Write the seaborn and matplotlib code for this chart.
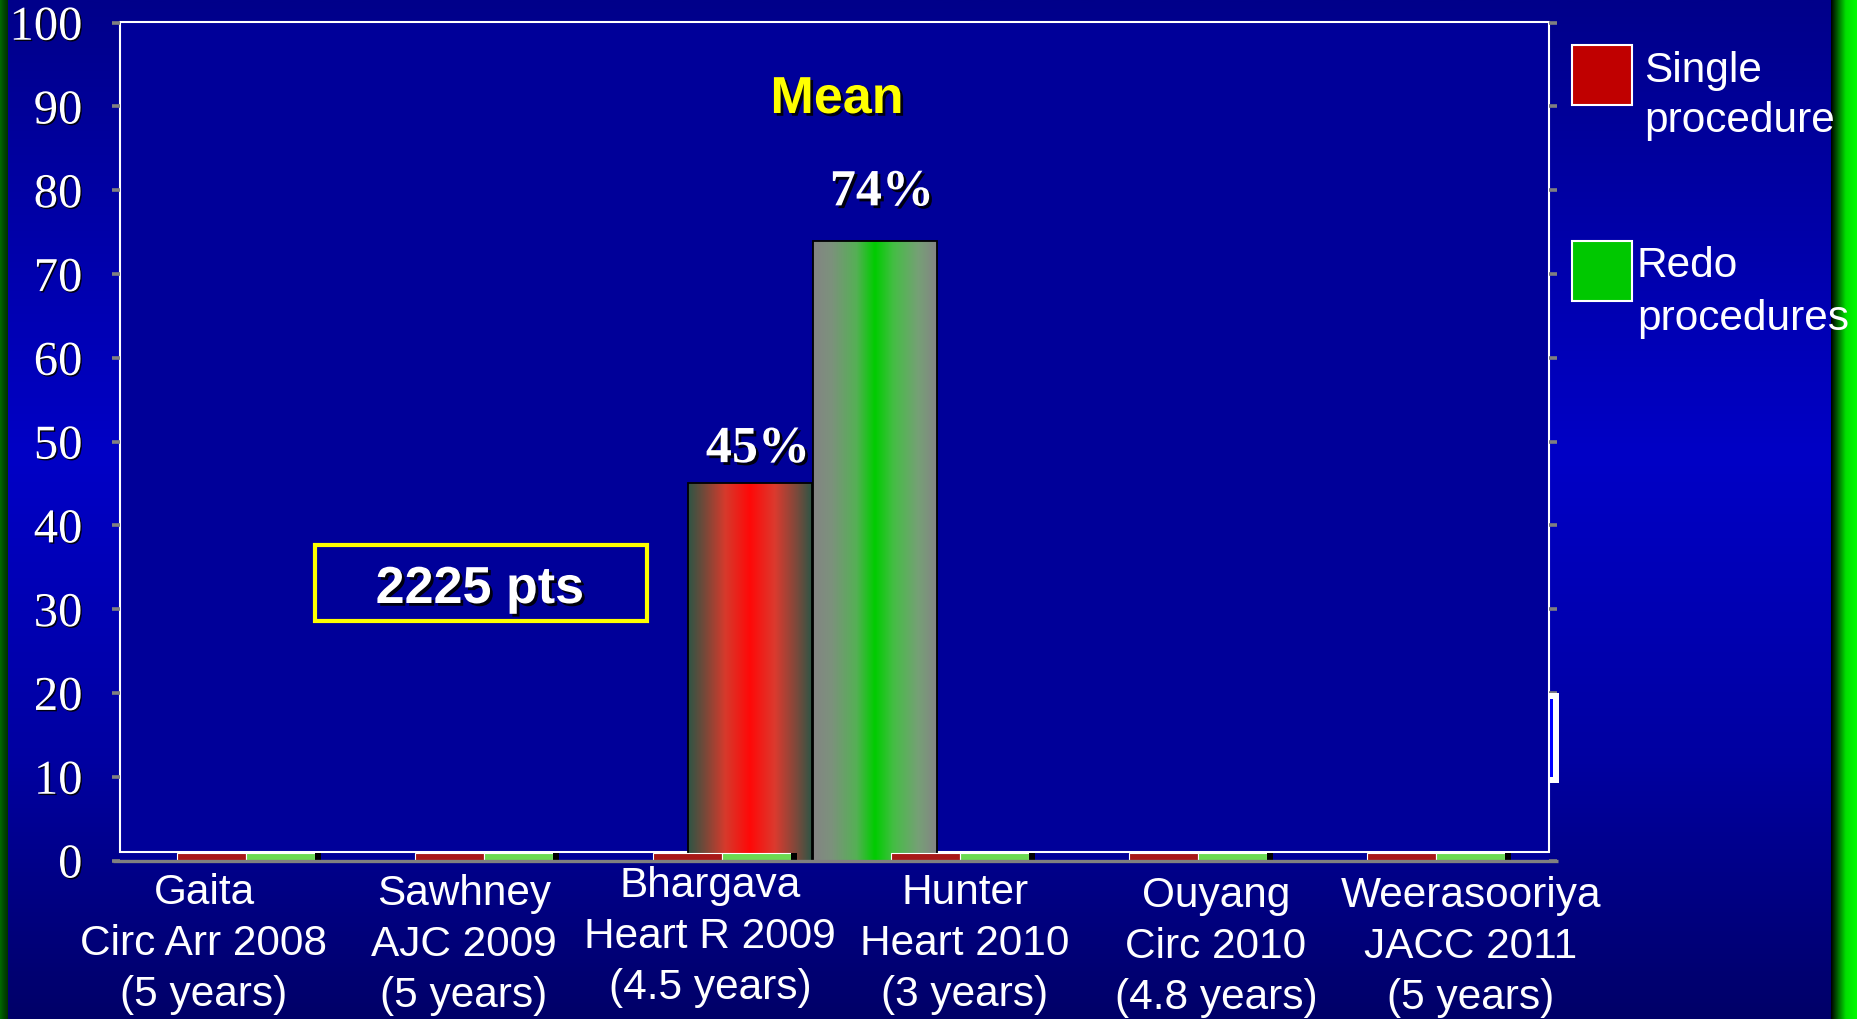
import numpy as np
import pandas as pd
import matplotlib
matplotlib.use("Agg")
import matplotlib.pyplot as plt
import matplotlib.patheffects as pe
from matplotlib.colors import LinearSegmentedColormap
from matplotlib.patches import Rectangle
import seaborn as sns

# ---- data -------------------------------------------------------------
studies = ["Gaita", "Sawhney", "Bhargava", "Hunter", "Ouyang", "Weerasooriya"]
journals = ["Circ Arr 2008", "AJC 2009", "Heart R 2009", "Heart 2010", "Circ 2010", "JACC 2011"]
follow_up = ["(5 years)", "(5 years)", "(4.5 years)", "(3 years)", "(4.8 years)", "(5 years)"]

# per-study bars (collapsed to the baseline)
single_proc = [0.9, 0.9, 0.9, 0.9, 0.9, 0.9]
redo_proc = [0.9, 0.9, 0.9, 0.9, 0.9, 0.9]
third_series = [0.9, 0.9, 0.9, 0.9, 0.9, 0.9]

# pooled mean success
mean_series = ["Single procedure", "Redo procedures"]
mean_values = [45, 74]
mean_text = ["45%", "74%"]

y_ticks = [0, 10, 20, 30, 40, 50, 60, 70, 80, 90, 100]
legend_lines = [["Single", "procedure"], ["Redo", "procedures"]]

# ---- figure geometry (pixels) ----------------------------------------
W, H = 1858, 1019
DPI = 100
fig = plt.figure(figsize=(W / DPI, H / DPI), dpi=DPI)

SANS = ["Liberation Sans", "DejaVu Sans"]
SERIF = ["Liberation Serif", "DejaVu Serif"]

def shadow(off=2.0):
    return [pe.withSimplePatchShadow(offset=(off, -off), shadow_rgbFace="black", alpha=0.9)]

# background: slide gradient with green side strips
bg = fig.add_axes([0, 0, 1, 1], zorder=-10)
bg_cmap = LinearSegmentedColormap.from_list(
    "slide", [(0.0, "#00008A"), (0.45, "#0000C6"), (0.75, "#0000A0"), (1.0, "#000068")])
bg.imshow(np.linspace(0, 1, 512).reshape(-1, 1), cmap=bg_cmap, aspect="auto",
          extent=[0, W, H, 0], interpolation="bilinear")
left_cmap = LinearSegmentedColormap.from_list("ls", ["#006A00", "#004800", "#003000"])
bg.imshow(np.linspace(0, 1, 64).reshape(1, -1), cmap=left_cmap, aspect="auto",
          extent=[0, 8, H, 0], interpolation="bilinear")
right_cmap = LinearSegmentedColormap.from_list(
    "rs", [(0.0, "#000000"), (0.55, "#00E000"), (1.0, "#00FF00")])
bg.imshow(np.linspace(0, 1, 64).reshape(1, -1), cmap=right_cmap, aspect="auto",
          extent=[1831, 1858, H, 0], interpolation="bilinear")
bg.set_xlim(0, W)
bg.set_ylim(H, 0)
bg.axis("off")

# ---- main chart axes --------------------------------------------------
PX_PER_CAT = 238.0
X0_PX, X1_PX = 120.0, 1549.0
Y0_PX, Y100_PX = 860.5, 22.7
ax = fig.add_axes([X0_PX / W, 1 - Y0_PX / H, (X1_PX - X0_PX) / W, (Y0_PX - Y100_PX) / H], zorder=1)
ax.patch.set_alpha(0)
XL0 = -0.5 - 7.0 / PX_PER_CAT
XL1 = XL0 + (X1_PX - X0_PX) / PX_PER_CAT

def px_to_x(px):
    return XL0 + (px - X0_PX) / PX_PER_CAT

df = pd.DataFrame({
    "study": studies * 2,
    "value": single_proc + redo_proc,
    "procedure": ["Single procedure"] * 6 + ["Redo procedures"] * 6,
})
sns.barplot(data=df, x="study", y="value", hue="procedure", order=studies,
            hue_order=["Single procedure", "Redo procedures"],
            palette=["#C00000", "#5CF03C"], width=0.58, edgecolor="white",
            linewidth=0.8, legend=False, ax=ax, zorder=3)
ax.bar(np.arange(len(studies)) + 0.3025, third_series, width=0.025,
       color="black", linewidth=0, zorder=3)

# plot area fill and white frame
ax.add_patch(Rectangle((XL0, 0), XL1 - XL0, 100.08, facecolor="#000099",
                       edgecolor="none", zorder=0))
ax.add_patch(Rectangle((XL0, 1.0), XL1 - XL0, 99.08, fill=False, edgecolor="white",
                       linewidth=1.5, zorder=1.5, clip_on=False))

# pooled mean bars with horizontal gradient fill
grad_maps = [
    LinearSegmentedColormap.from_list("redbar", [
        (0.0, "#2E5545"), (0.12, "#6E4A3A"), (0.3, "#D63A2C"), (0.5, "#FF0808"),
        (0.7, "#DC3A2E"), (0.88, "#7A4A3C"), (1.0, "#2E5545")]),
    LinearSegmentedColormap.from_list("greenbar", [
        (0.0, "#848484"), (0.15, "#7C927C"), (0.35, "#55B055"), (0.5, "#00CC00"),
        (0.65, "#44BE44"), (0.85, "#76A076"), (1.0, "#848484")]),
]
mean_x = [px_to_x(750), px_to_x(875)]
bar_w = 124.0 / PX_PER_CAT
bars = ax.bar(mean_x, mean_values, width=bar_w, facecolor="none",
              edgecolor="black", linewidth=1.3, zorder=2.2)
grad = np.linspace(0, 1, 256).reshape(1, -1)
for rect, cmap in zip(bars.patches, grad_maps):
    x0 = rect.get_x()
    im = ax.imshow(grad, cmap=cmap, aspect="auto", interpolation="bilinear",
                   extent=[x0, x0 + rect.get_width(), 0, rect.get_height()], zorder=2)
    im.set_clip_path(rect)

label_x = [px_to_x(758), px_to_x(882)]
label_off = [2.55, 4.2]
for lx, v, t, off in zip(label_x, mean_values, mean_text, label_off):
    ax.text(lx, v + off, t, ha="center", va="baseline", fontsize=37.5,
            fontweight="bold", family=SERIF, color="white",
            path_effects=shadow(2), zorder=6)

# axis line at zero
ax.plot([px_to_x(113), px_to_x(1558)], [0, 0], color="#808080", lw=2.4,
        clip_on=False, zorder=4, solid_capstyle="butt")

ax.set_xlim(XL0, XL1)
ax.set_ylim(0, 100)
ax.set_yticks(y_ticks)
ax.set_yticklabels([str(t) for t in y_ticks])
ax.tick_params(axis="y", left=True, right=True, direction="out", length=6,
               width=2.6, color="#808080", pad=21, labelsize=35,
               labelcolor="white")
for lab in ax.get_yticklabels():
    lab.set_family(SERIF)
    lab.set_path_effects(shadow(1))
ax.tick_params(axis="x", bottom=False, labelbottom=False)
ax.set_xlabel("")
ax.set_ylabel("")
for s in ax.spines.values():
    s.set_visible(False)

# ---- overlay in pixel coordinates -------------------------------------
ov = fig.add_axes([0, 0, 1, 1], zorder=5)
ov.set_xlim(0, W)
ov.set_ylim(H, 0)
ov.axis("off")
ov.patch.set_alpha(0)

ov.text(837, 113, "Mean", ha="center", va="baseline", fontsize=37.5,
        fontweight="bold", family=SANS, color="#FFFF00", path_effects=shadow(2))

ov.add_patch(Rectangle((315, 545), 332, 76, fill=False, edgecolor="#FFFF00", linewidth=3))
ov.text(480, 603, "2225 pts", ha="center", va="baseline", fontsize=37.5,
        fontweight="bold", family=SANS, color="white", path_effects=shadow(2))

# legend
legend_colors = ["#C00000", "#00C800"]
legend_box_y = [45, 241]
legend_text_x = [1644, 1637]
legend_baselines = [[82, 132], [277, 330]]
for col, by, tx, lines, bls in zip(legend_colors, legend_box_y, legend_text_x,
                                   legend_lines, legend_baselines):
    ov.add_patch(Rectangle((1572, by), 60, 60, facecolor=col, edgecolor="white", linewidth=1.5))
    for line, bl in zip(lines, bls):
        ov.text(tx, bl, line, ha="left", va="baseline", fontsize=30.5,
                family=SANS, color="white")

# study labels under the axis
label_cx = [204, 464, 710, 965, 1216, 1471]
label_top_baseline = [904, 905, 897, 904, 907, 907]
for cx, b0, a, b, c in zip(label_cx, label_top_baseline, studies, journals, follow_up):
    for k, line in enumerate([a, b, c]):
        ov.text(cx, b0 + 51 * k, line, ha="center", va="baseline", fontsize=30.5,
                family=SANS, color="white")

# small white marker at the right edge of the frame
ov.add_patch(Rectangle((1548, 693), 11, 90, facecolor="white", edgecolor="none"))
ov.add_patch(Rectangle((1550, 699), 3.5, 78, facecolor="#0000FF", edgecolor="none"))

fig.savefig("out.png", dpi=DPI)
